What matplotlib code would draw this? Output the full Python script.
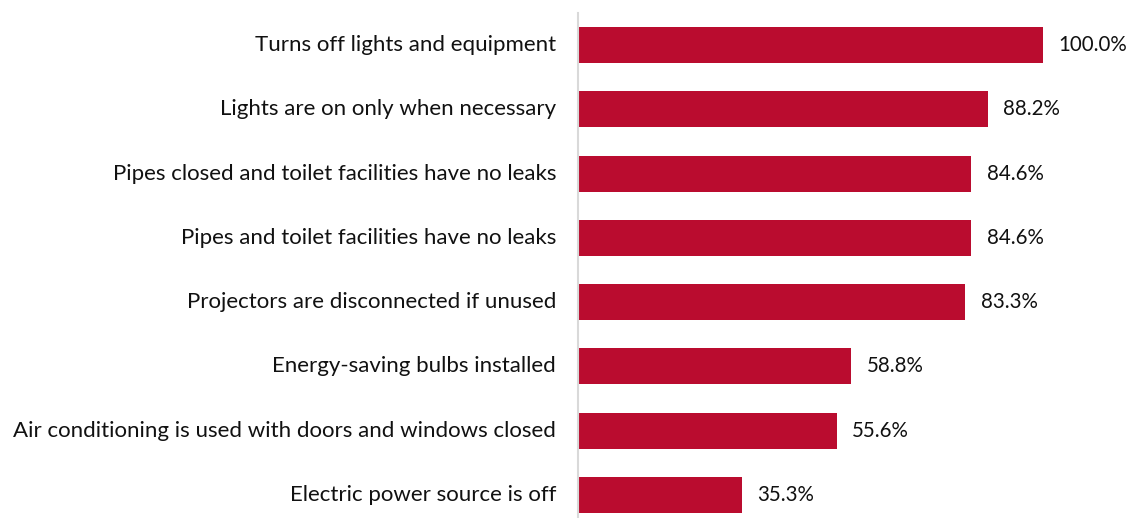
import matplotlib.pyplot as plt

# survey items and share of schools meeting each practice (%)
items = [
    'Turns off lights and equipment',
    'Lights are on only when necessary',
    'Pipes closed and toilet facilities have no leaks',
    'Pipes and toilet facilities have no leaks',
    'Projectors are disconnected if unused',
    'Energy-saving bulbs installed',
    'Air conditioning is used with doors and windows closed',
    'Electric power source is off',
]
shares = [100.0, 88.2, 84.6, 84.6, 83.3, 58.8, 55.6, 35.3]

plt.rcParams['font.family'] = ['Lato', 'DejaVu Sans']

fig = plt.figure(figsize=(11.3, 5.18), dpi=100)
ax = fig.add_axes([578 / 1130, -9 / 518, 465 / 1130, 514 / 518])

pos = list(range(len(items)))
ax.barh(pos, shares, height=0.56, color='#BA0C2F')
ax.set_ylim(len(items) - 0.5, -0.5)
ax.set_xlim(0, 100)

for y, (lab, v) in enumerate(zip(items, shares)):
    ax.text(-4.7, y, lab, ha='right', va='center', fontsize=16, color='#111111')
    ax.text(v + 3.3, y, f'{v:.1f}%', ha='left', va='center', fontsize=14.8,
            color='#111111', clip_on=False)

for s in ['top', 'right', 'bottom']:
    ax.spines[s].set_visible(False)
ax.spines['left'].set_color('#d9d9d9')
ax.spines['left'].set_linewidth(1.5)
ax.set_xticks([])
ax.set_yticks([])

fig.savefig('out.png', dpi=100, facecolor='w')
